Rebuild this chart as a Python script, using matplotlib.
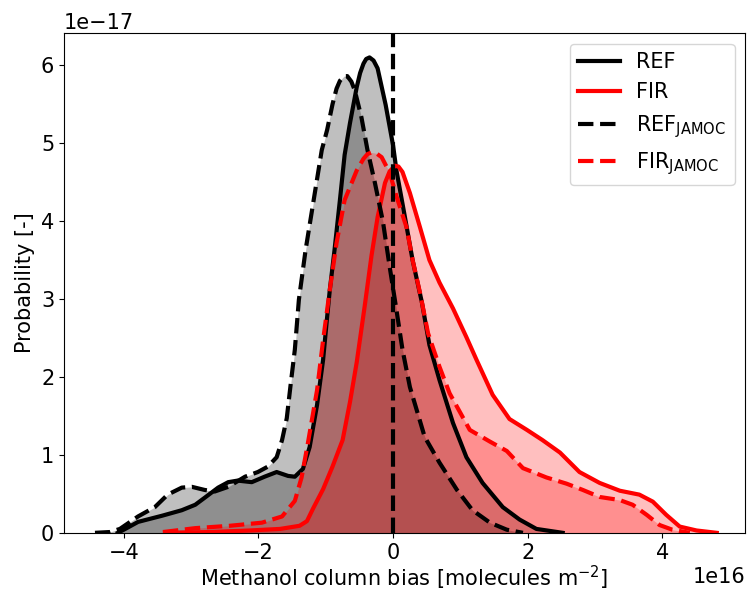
import numpy as np
import matplotlib
matplotlib.use("Agg")
import matplotlib.pyplot as plt

# curves: x in 1e16 molecules m-2, density in 1e-17
ref_x = [-4.09, -3.98, -3.79, -3.43, -3.14, -2.94, -2.80, -2.60, -2.45, -2.31, -2.10,
         -1.91, -1.73, -1.56, -1.46, -1.34, -1.24, -1.13, -1.04, -0.98, -0.94, -0.87,
         -0.79, -0.72, -0.64, -0.54, -0.49, -0.44, -0.40, -0.35, -0.29, -0.23, -0.11,
         0.00, 0.05, 0.17, 0.29, 0.43, 0.54, 0.69, 0.89, 1.09, 1.33, 1.63, 1.88,
         2.13, 2.52]
ref_y = [0.00, 0.05, 0.14, 0.22, 0.29, 0.36, 0.45, 0.58, 0.65, 0.67, 0.65,
         0.72, 0.78, 0.73, 0.72, 0.82, 1.10, 1.64, 2.22, 2.77, 3.12, 3.63,
         4.27, 4.85, 5.26, 5.72, 5.90, 6.02, 6.08, 6.10, 6.06, 5.96, 5.49,
         4.97, 4.65, 4.08, 3.50, 2.95, 2.41, 1.96, 1.41, 0.97, 0.64, 0.33, 0.17,
         0.05, 0.00]

fir_x = [-3.39, -2.72, -2.13, -1.68, -1.39, -1.28, -1.19, -1.04, -0.90, -0.75, -0.64,
         -0.54, -0.42, -0.32, -0.23, -0.12, -0.05, 0.03, 0.08, 0.14, 0.25, 0.40,
         0.54, 0.69, 0.89, 1.09, 1.24, 1.48, 1.73, 1.99, 2.22, 2.48, 2.77, 3.07,
         3.37, 3.66, 3.86, 4.06, 4.26, 4.51, 4.81]
fir_y = [0.00, 0.01, 0.03, 0.05, 0.09, 0.15, 0.31, 0.56, 0.85, 1.19, 1.68,
         2.19, 2.92, 3.56, 4.05, 4.49, 4.64, 4.71, 4.70, 4.63, 4.36, 3.92,
         3.50, 3.21, 2.88, 2.51, 2.22, 1.77, 1.46, 1.32, 1.19, 1.03, 0.78, 0.64,
         0.54, 0.49, 0.40, 0.23, 0.08, 0.03, 0.00]

ref_jamoc_x = [-4.43, -4.21, -4.06, -3.79, -3.54, -3.35, -3.14, -2.99, -2.80, -2.65, -2.45,
               -2.20, -2.01, -1.86, -1.73, -1.65, -1.58, -1.52, -1.46, -1.40, -1.30, -1.18,
               -1.06, -0.98, -0.90, -0.84, -0.79, -0.73, -0.68, -0.62, -0.57, -0.47, -0.38,
               -0.27, -0.15, -0.05, 0.05, 0.14, 0.25, 0.47, 0.69, 0.95, 1.18, 1.44, 1.69,
               1.93]
ref_jamoc_y = [0.00, 0.01, 0.05, 0.21, 0.33, 0.49, 0.58, 0.59, 0.55, 0.53, 0.59,
               0.72, 0.78, 0.85, 0.97, 1.19, 1.47, 1.92, 2.35, 2.99, 3.63, 4.27,
               4.91, 5.17, 5.50, 5.70, 5.80, 5.86, 5.86, 5.79, 5.68, 5.33, 4.91,
               4.49, 3.99, 3.41, 2.86, 2.35, 1.87, 1.23, 0.90, 0.55, 0.29, 0.13, 0.04,
               0.00]

fir_jamoc_x = [-3.42, -2.94, -2.43, -1.95, -1.65, -1.46, -1.36, -1.27, -1.13, -1.04, -0.94,
               -0.84, -0.72, -0.54, -0.44, -0.38, -0.32, -0.25, -0.17, -0.05, 0.05, 0.20,
               0.29, 0.40, 0.52, 0.69, 0.84, 1.14, 1.44, 1.69, 1.93, 2.28, 2.58, 2.82,
               3.07, 3.37, 3.56, 3.77, 3.96, 4.15, 4.41]
fir_jamoc_y = [0.01, 0.06, 0.09, 0.13, 0.21, 0.41, 0.71, 1.13, 1.83, 2.47, 3.12,
               3.72, 4.27, 4.65, 4.80, 4.86, 4.88, 4.87, 4.82, 4.62, 4.32, 3.92,
               3.50, 3.08, 2.56, 2.13, 1.79, 1.32, 1.17, 1.05, 0.83, 0.71, 0.63, 0.55,
               0.46, 0.42, 0.36, 0.23, 0.10, 0.04, 0.00]

curves = [
    (ref_x, ref_y, 'black', '-', 'REF'),
    (fir_x, fir_y, 'red', '-', 'FIR'),
    (ref_jamoc_x, ref_jamoc_y, 'black', '--', r'REF$_{\mathrm{JAMOC}}$'),
    (fir_jamoc_x, fir_jamoc_y, 'red', '--', r'FIR$_{\mathrm{JAMOC}}$'),
]

plt.rcParams['font.size'] = 15

fig = plt.figure(figsize=(7.48, 5.94), dpi=100)
ax = fig.add_axes([0.0856, 0.103, 0.9104, 0.841])

for xs, ys, col, ls, lab in curves:
    x = np.array(xs) * 1e16
    y = np.array(ys) * 1e-17
    ax.fill_between(x, y, color=col, alpha=0.25, linewidth=0)
    ax.plot(x, y, color=col, linestyle=ls, linewidth=3, label=lab,
            solid_joinstyle='round', dash_joinstyle='round')

ax.axvline(0, color='black', linestyle='--', linewidth=3)

ax.set_xlim(-4.89e16, 5.23e16)
ax.set_ylim(0, 6.41e-17)
ax.set_xlabel(r'Methanol column bias [molecules m$^{-2}$]', labelpad=1)
ax.set_ylabel('Probability [-]')
ax.legend(loc='upper right')

fig.savefig('out.png', dpi=100)
